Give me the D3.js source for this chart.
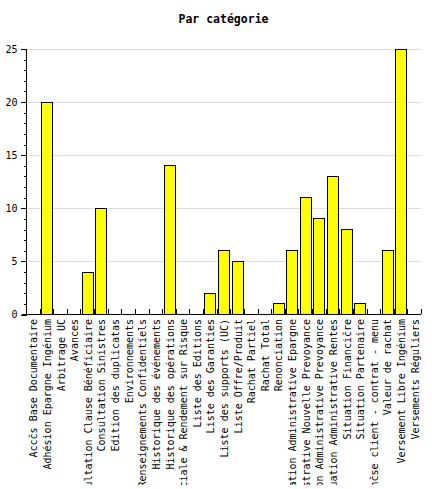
<!DOCTYPE html>
<html>
<head>
<meta charset="utf-8">
<script src="https://cdn.jsdelivr.net/npm/d3@7"></script>
<style>
  body { margin: 0; background: #fff; }
  text { font-family: "DejaVu Sans Mono", monospace; }
</style>
</head>
<body>
<div id="chart"></div>
<script>
const categories = [
  "Accčs Base Documentaire",
  "Adhésion Epargne Ingénium",
  "Arbitrage UC",
  "Avances",
  "Consultation Clause Bénéficiaire",
  "Consultation Sinistres",
  "Edition des duplicatas",
  "Environnements",
  "Renseignements Confidentiels",
  "Historique des événements",
  "Historique des opérations",
  "Marge Commerciale & Rendement sur Risque",
  "Liste des Editions",
  "Liste des Garanties",
  "Liste des supports (UC)",
  "Liste Offre/Produit",
  "Rachat Partiel",
  "Rachat Total",
  "Renonciation",
  "Situation Administrative Epargne",
  "Situation Administrative Nouvelle Prevoyance",
  "Situation Administrative Prevoyance",
  "Situation Administrative Rentes",
  "Situation Financičre",
  "Situation Partenaire",
  "Synthčse client - contrat - menu",
  "Valeur de rachat",
  "Versement Libre Ingénium",
  "Versements Réguliers"
];
const values = [0, 20, 0, 0, 4, 10, 0, 0, 0, 0, 14, 0, 0, 2, 6, 5, 0, 0, 1, 6, 11, 9, 13, 8, 1, 0, 6, 25, 0];
const yTicks = [0, 5, 10, 15, 20, 25];
const title = "Par catégorie";

const w = 432, h = 489;
const mLeft = 26, mRight = 421, mTop = 48.5, mBottom = 314;

const svg = d3.select("#chart").append("svg")
  .attr("width", w)
  .attr("height", h);

const x = d3.scaleBand().domain(categories).range([mLeft, mRight])
  .paddingInner(0.2).paddingOuter(0.1);
const xEdge = d3.scaleBand().domain(categories).range([mLeft, mRight]);
const y = d3.scaleLinear().domain([0, 25]).range([mBottom, mTop]);

// grid
svg.append("g")
  .selectAll("line")
  .data(yTicks.filter(d => d > 0))
  .enter().append("line")
  .attr("x1", mLeft).attr("x2", mRight)
  .attr("y1", d => Math.round(y(d)) + 0.5)
  .attr("y2", d => Math.round(y(d)) + 0.5)
  .attr("stroke", "#dddddd");

// bars
svg.append("g")
  .selectAll("rect")
  .data(values)
  .enter().append("rect")
  .attr("x", (d, i) => Math.round(x(categories[i])) + 0.5)
  .attr("y", d => Math.round(y(d)) + 0.5)
  .attr("width", Math.round(x.bandwidth()))
  .attr("height", d => Math.round(y(0)) - Math.round(y(d)))
  .attr("fill", "#ffff00")
  .attr("stroke", "#000")
  .attr("stroke-width", 1)
  .style("display", d => d > 0 ? null : "none");

// y axis minor ticks
svg.append("g")
  .attr("transform", "translate(" + (mLeft + 0.5) + ",0.5)")
  .call(d3.axisLeft(y).tickValues(d3.range(0, 26)).tickSize(3).tickFormat(""))
  .call(g => g.select(".domain").remove())
  .attr("shape-rendering", "crispEdges");

// y axis major
const yAxis = svg.append("g")
  .attr("transform", "translate(" + (mLeft + 0.5) + ",0.5)")
  .call(d3.axisLeft(y).tickValues(yTicks).tickSize(6).tickSizeOuter(0).tickPadding(3))
  .attr("shape-rendering", "crispEdges");
yAxis.selectAll("text")
  .attr("font-family", "DejaVu Sans Mono")
  .attr("font-size", "10px")
  .attr("fill", "#000");
yAxis.select(".domain").attr("d", "M0," + mTop + "V" + mBottom);

// x axis line and ticks
const xg = svg.append("g").attr("shape-rendering", "crispEdges");
xg.append("line")
  .attr("x1", mLeft - 4).attr("x2", mRight)
  .attr("y1", Math.round(mBottom) + 0.5).attr("y2", Math.round(mBottom) + 0.5)
  .attr("stroke", "#000");
xg.selectAll("line.tick")
  .data(categories.map(c => xEdge(c)).slice(1).concat([mRight]))
  .enter().append("line")
  .attr("class", "tick")
  .attr("x1", d => Math.round(d) + 0.5).attr("x2", d => Math.round(d) + 0.5)
  .attr("y1", Math.round(mBottom) - 5).attr("y2", Math.round(mBottom))
  .attr("stroke", "#000");

// x labels (long ones are cut off at the bottom, as in the original)
svg.append("clipPath").attr("id", "lblclip")
  .append("rect").attr("x", 0).attr("y", mBottom).attr("width", w).attr("height", 485 - mBottom);

svg.append("g")
  .attr("clip-path", "url(#lblclip)")
  .selectAll("text")
  .data(categories)
  .enter().append("text")
  .attr("transform", d => "translate(" + (x(d) + x.bandwidth() / 2 + 1) + "," + (mBottom + 5) + ") rotate(-90)")
  .attr("text-anchor", "end")
  .attr("dy", "0.35em")
  .attr("font-size", "10px")
  .attr("fill", "#000")
  .text(d => d);

// title
svg.append("text")
  .attr("x", (mLeft + mRight) / 2)
  .attr("y", 23)
  .attr("text-anchor", "middle")
  .attr("font-size", "11.5px")
  .attr("font-weight", "bold")
  .text(title);
</script>
</body>
</html>
